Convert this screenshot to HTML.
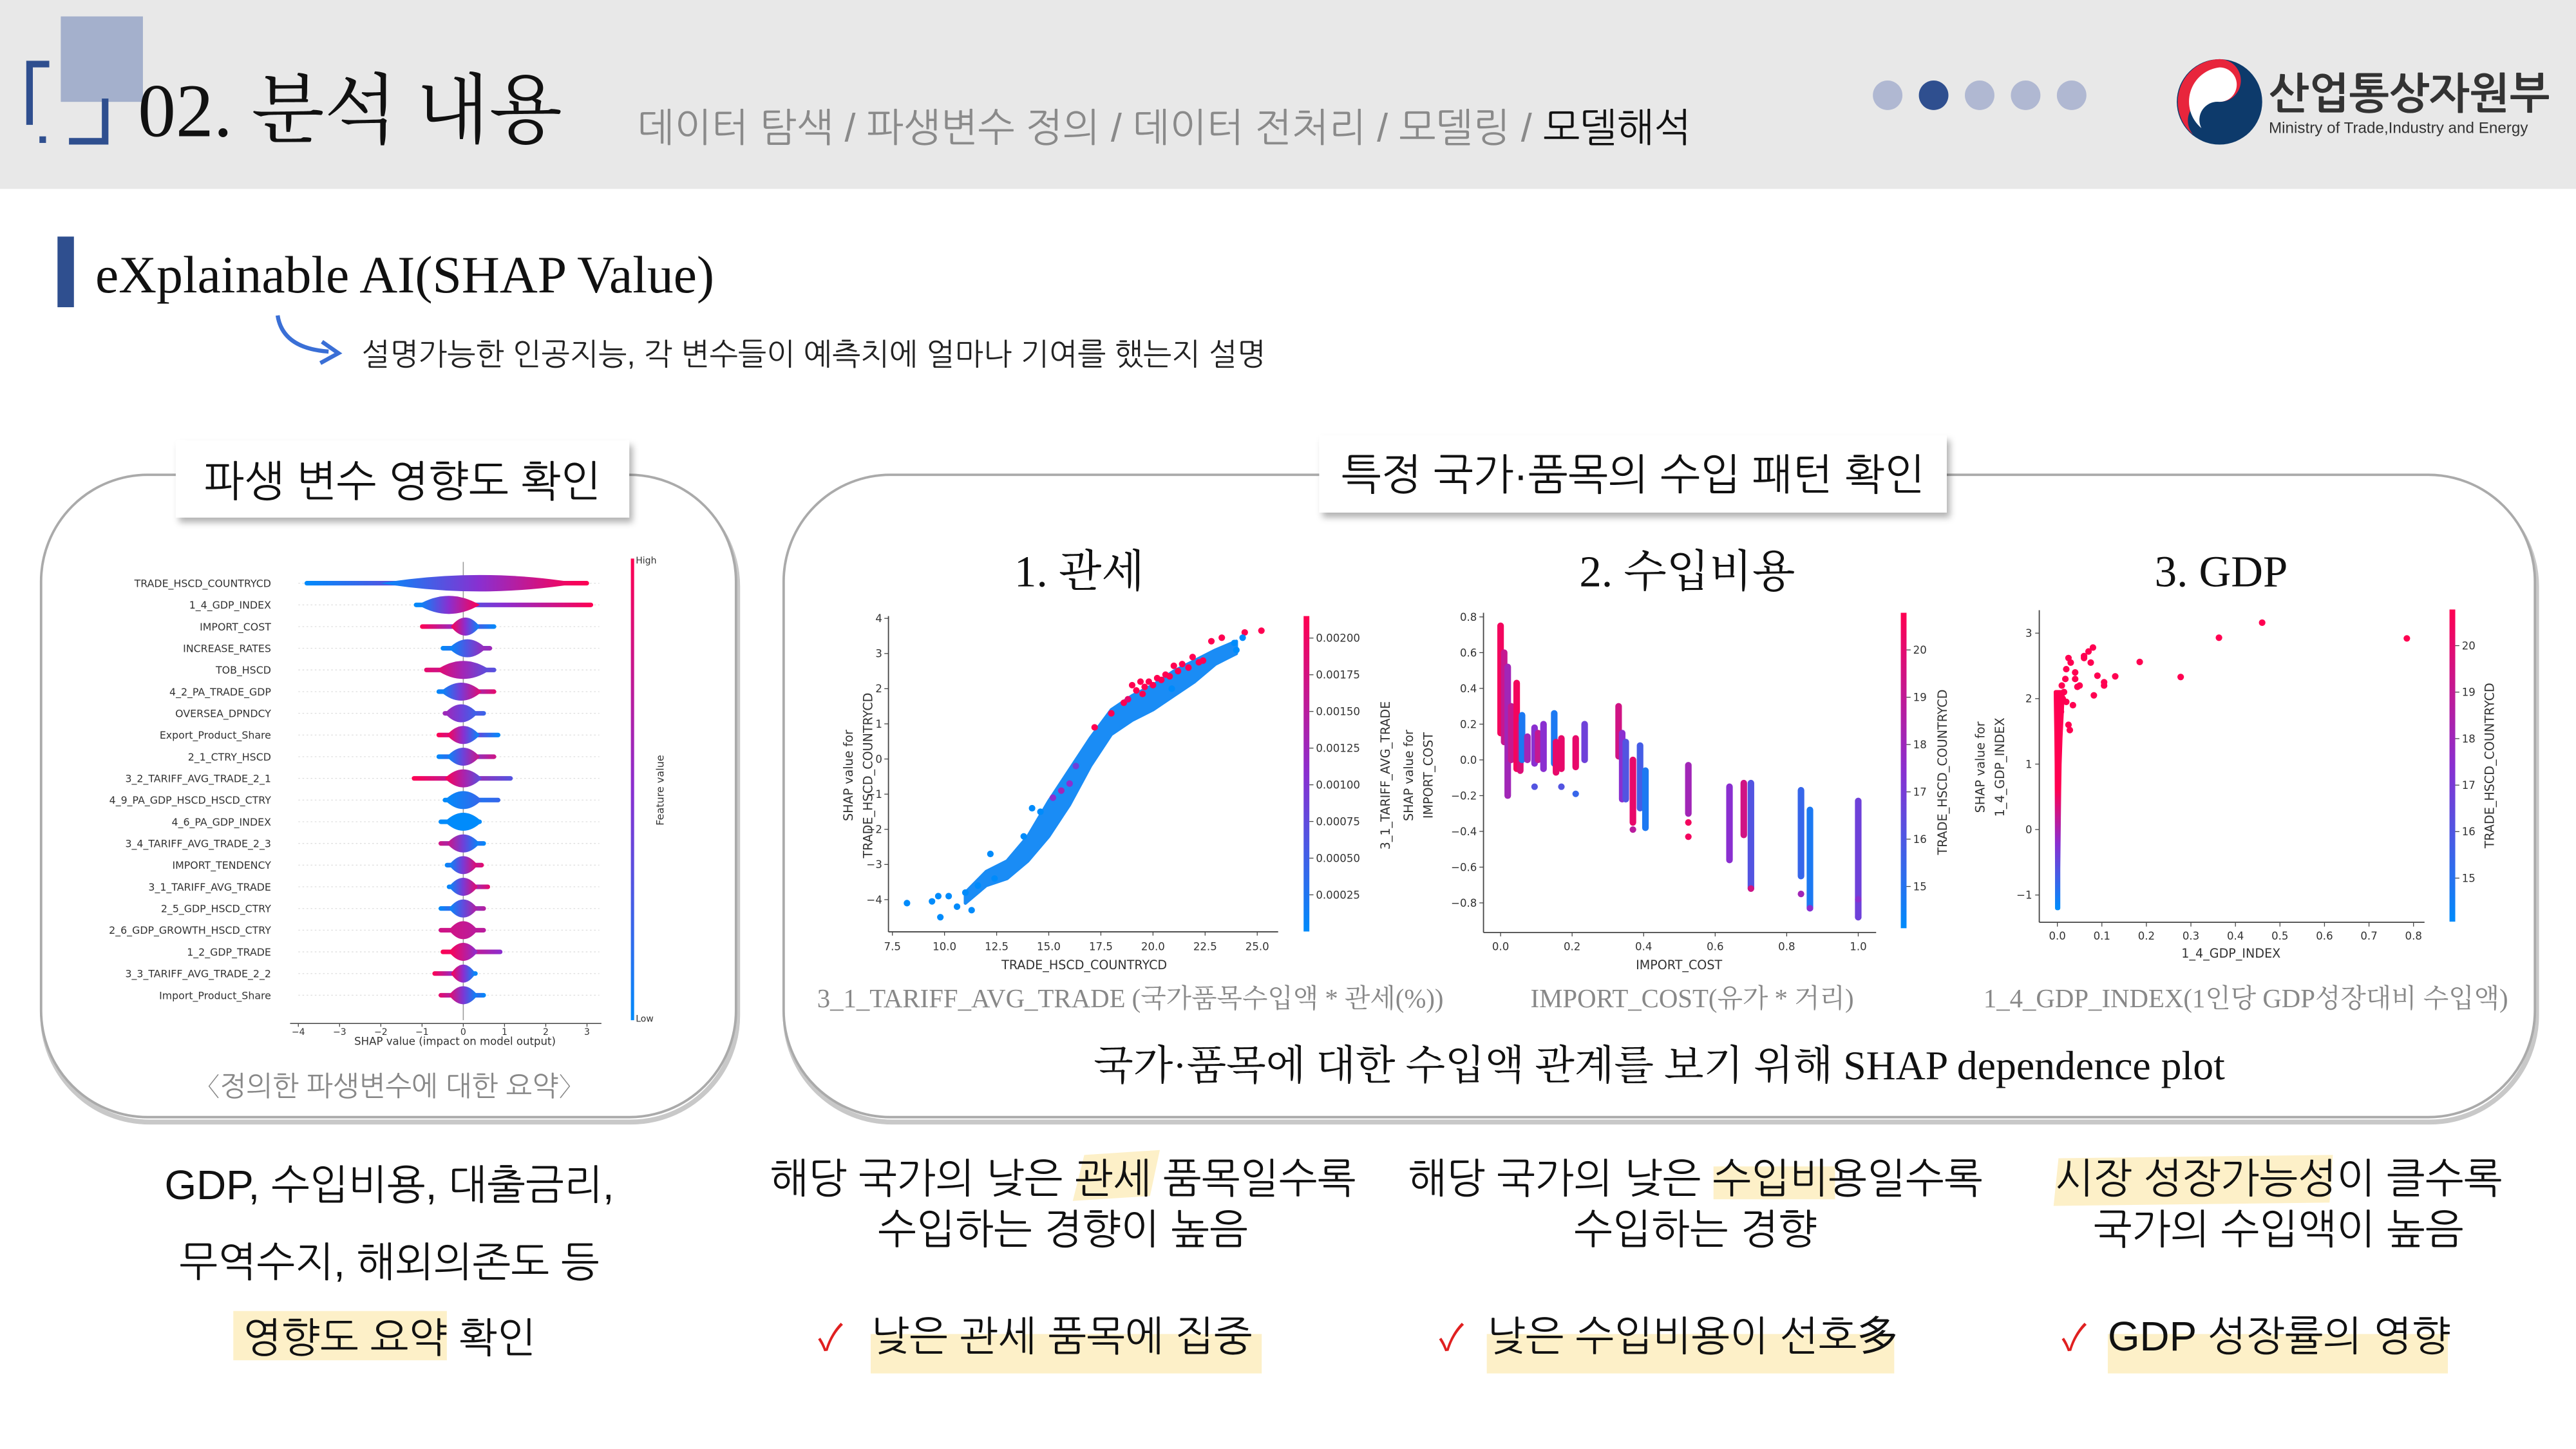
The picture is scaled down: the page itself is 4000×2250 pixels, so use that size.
<!DOCTYPE html>
<html><head><meta charset="utf-8">
<style>
html,body{margin:0;padding:0;background:#fff;}
body{width:4000px;height:2250px;overflow:hidden;}
svg{display:block;}
.serif{font-family:"Liberation Serif","Noto Serif CJK SC",serif;}
.sans{font-family:"Liberation Sans","NanumGothic","Noto Sans CJK KR",sans-serif;}
.dv{font-family:"DejaVu Sans","Liberation Sans",sans-serif;}
</style></head>
<body>
<svg id="page" width="4000" height="2250" viewBox="0 0 1568 882" xmlns="http://www.w3.org/2000/svg">
<defs>
  <filter id="sh" x="-10%" y="-20%" width="130%" height="160%"><feDropShadow dx="2" dy="3" stdDeviation="2" flood-color="#000" flood-opacity="0.3"/></filter>
  <linearGradient id="cbar" x1="0" y1="1" x2="0" y2="0">
    <stop offset="0" stop-color="#008bfb"/><stop offset="0.5" stop-color="#8a2fd0"/><stop offset="1" stop-color="#ff0051"/>
  </linearGradient>
  <linearGradient id="stemg" x1="0" y1="1" x2="0" y2="0">
    <stop offset="0" stop-color="#008bfb"/><stop offset="0.3" stop-color="#8a2fd0"/><stop offset="0.55" stop-color="#ff0051"/><stop offset="1" stop-color="#ff0051"/>
  </linearGradient>
</defs>

<!-- header -->
<rect x="0" y="0" width="1568" height="115" fill="#e8e8e8"/>
<g>
  <rect x="37" y="10" width="50" height="52" fill="#a4b0cc"/>
  <path d="M30 39 H18 V76" stroke="#2f4f8f" stroke-width="4" fill="none"/>
  <path d="M64 60 V86 H42" stroke="#2f4f8f" stroke-width="4" fill="none"/>
  <rect x="24" y="83" width="4" height="4" fill="#2f4f8f"/>
</g>
<text class="serif" x="84" y="83" font-size="46" fill="#111">02. 분석 내용</text>
<text class="sans" x="388" y="86" font-size="24" fill="#8a8a8a">데이터 탐색 / 파생변수 정의 / 데이터 전처리 / 모델링 / <tspan fill="#111">모델해석</tspan></text>
<g>
  <circle cx="1149" cy="58" r="9" fill="#b0b8d2"/>
  <circle cx="1177" cy="58" r="9" fill="#2f4f8f"/>
  <circle cx="1205" cy="58" r="9" fill="#b0b8d2"/>
  <circle cx="1233" cy="58" r="9" fill="#b0b8d2"/>
  <circle cx="1261" cy="58" r="9" fill="#b0b8d2"/>
</g>
<g>
  <circle cx="1351" cy="62" r="26" fill="#0d3a6b"/>
  <path d="M1351 36 A26 26 0 0 0 1335 82 A13 13 0 0 1 1351 62 A13 13 0 0 0 1351 36 Z" fill="#e8253c"/>
  <path d="M1351 41 A21 21 0 0 0 1340 78 A11 11 0 0 1 1351 62 A10 10 0 0 0 1351 41 Z" fill="#fff"/>
  <text class="sans" x="1381" y="66" font-size="26" font-weight="bold" fill="#333">산업통상자원부</text>
  <text class="sans" x="1381" y="81" font-size="9.5" fill="#333">Ministry of Trade,Industry and Energy</text>
</g>

<!-- subtitle -->
<rect x="35" y="144" width="10" height="43" fill="#2f4f8f"/>
<text class="serif" x="58" y="178" font-size="32" fill="#111">eXplainable AI(SHAP Value)</text>
<path d="M169 192 Q172 212 200 214" stroke="#3a6fd6" stroke-width="2.5" fill="none"/>
<path d="M196 208 L206 215 L195 221" stroke="#3a6fd6" stroke-width="2.5" fill="none"/>
<text class="sans" x="220" y="222" font-size="18.5" fill="#222">설명가능한 인공지능, 각 변수들이 예측치에 얼마나 기여를 했는지 설명</text>

<!-- panels -->
<rect x="26" y="292" width="423" height="391" rx="65" fill="none" stroke="#c8c8c8" stroke-width="3"/>
<rect x="25" y="289" width="423" height="391" rx="65" fill="#fff" stroke="#aaa" stroke-width="1.5"/>
<rect x="478" y="292" width="1066" height="391" rx="65" fill="none" stroke="#c8c8c8" stroke-width="3"/>
<rect x="477" y="289" width="1066" height="391" rx="65" fill="#fff" stroke="#aaa" stroke-width="1.5"/>

<rect x="107" y="268" width="276" height="47" fill="#fff" filter="url(#sh)"/>
<text class="sans" x="245" y="302" font-size="26" text-anchor="middle" fill="#111">파생 변수 영향도 확인</text>
<rect x="803" y="265" width="382" height="47" fill="#fff" filter="url(#sh)"/>
<text class="sans" x="994" y="298" font-size="26" text-anchor="middle" fill="#111">특정 국가·품목의 수입 패턴 확인</text>

<g id="summary"></g>
<g id="dep1"></g>
<g id="dep2"></g>
<g id="dep3"></g>

<text class="sans" x="237" y="667" font-size="17" text-anchor="middle" fill="#888">〈정의한 파생변수에 대한 요약〉</text>
<text class="serif" x="657" y="357" font-size="27" text-anchor="middle" fill="#111">1. 관세</text>
<text class="serif" x="1027" y="357" font-size="27" text-anchor="middle" fill="#111">2. 수입비용</text>
<text class="serif" x="1352" y="357" font-size="27" text-anchor="middle" fill="#111">3. GDP</text>
<text class="serif" x="688" y="613" font-size="16" text-anchor="middle" fill="#888">3_1_TARIFF_AVG_TRADE (국가품목수입액 * 관세(%))</text>
<text class="serif" x="1030" y="613" font-size="16" text-anchor="middle" fill="#888">IMPORT_COST(유가 * 거리)</text>
<text class="serif" x="1367" y="613" font-size="16" text-anchor="middle" fill="#888">1_4_GDP_INDEX(1인당 GDP성장대비 수입액)</text>
<text class="serif" x="1010" y="657" font-size="25" text-anchor="middle" fill="#111">국가·품목에 대한 수입액 관계를 보기 위해 SHAP dependence plot</text>

<!-- bottom conclusions -->
<g class="sans" font-size="25" fill="#111" text-anchor="middle">
  <rect x="142" y="798" width="130" height="30" fill="#fdf0c8"/>
  <text x="237" y="730">GDP, 수입비용, 대출금리,</text>
  <text x="237" y="777">무역수지, 해외의존도 등</text>
  <text x="237" y="823">영향도 요약 확인</text>

  <polygon points="660,703 706,700 700,728 653,731" fill="#fdf0c8"/>
  <text x="647" y="726">해당 국가의 낮은 관세 품목일수록</text>
  <text x="647" y="757">수입하는 경향이 높음</text>

  <rect x="1043" y="710" width="74" height="20" fill="#fdf0c8"/>
  <text x="1032" y="726">해당 국가의 낮은 수입비용일수록</text>
  <text x="1032" y="757">수입하는 경향</text>

  <polygon points="1253,705 1420,703 1418,732 1250,734" fill="#fdf0c8"/>
  <text x="1387" y="726">시장 성장가능성이 클수록</text>
  <text x="1387" y="757">국가의 수입액이 높음</text>
</g>
<g class="sans" font-size="25" fill="#111">
  <rect x="530" y="812" width="238" height="24" fill="#fdf0c8"/>
  <text x="498" y="822" fill="#e02020" font-size="22">✓</text>
  <text x="530" y="822">낮은 관세 품목에 집중</text>
  <rect x="905" y="812" width="248" height="24" fill="#fdf0c8"/>
  <text x="876" y="822" fill="#e02020" font-size="22">✓</text>
  <text x="905" y="822">낮은 수입비용이 선호多</text>
  <rect x="1283" y="812" width="207" height="24" fill="#fdf0c8"/>
  <text x="1255" y="822" fill="#e02020" font-size="22">✓</text>
  <text x="1283" y="822">GDP 성장률의 영향</text>
</g>
</svg>

<script>
// ===== Summary (beeswarm) data =====
const featureNames = ["TRADE_HSCD_COUNTRYCD","1_4_GDP_INDEX","IMPORT_COST","INCREASE_RATES","TOB_HSCD","4_2_PA_TRADE_GDP","OVERSEA_DPNDCY","Export_Product_Share","2_1_CTRY_HSCD","3_2_TARIFF_AVG_TRADE_2_1","4_9_PA_GDP_HSCD_HSCD_CTRY","4_6_PA_GDP_INDEX","3_4_TARIFF_AVG_TRADE_2_3","IMPORT_TENDENCY","3_1_TARIFF_AVG_TRADE","2_5_GDP_HSCD_CTRY","2_6_GDP_GROWTH_HSCD_CTRY","1_2_GDP_TRADE","3_3_TARIFF_AVG_TRADE_2_2","Import_Product_Share"];
const shapMin = [-3.85,-1.2,-1.05,-0.55,-0.95,-0.65,-0.5,-0.65,-0.65,-1.25,-0.5,-0.6,-0.6,-0.45,-0.4,-0.6,-0.6,-0.55,-0.75,-0.6];
const shapMax = [3.05,3.15,0.8,0.7,0.8,0.8,0.55,0.9,0.8,1.2,0.9,0.45,0.55,0.5,0.65,0.55,0.55,0.95,0.35,0.55];
const shapCenter = [0.4,-0.35,0.05,0.1,0.0,-0.05,-0.05,0.0,0.0,0.0,0.0,0.0,0.0,0.0,0.0,0.0,0.0,0.0,0.0,0.0];
const shapSpread = [2.4,0.75,0.35,0.45,0.65,0.5,0.4,0.4,0.4,0.45,0.45,0.45,0.4,0.35,0.35,0.35,0.35,0.35,0.3,0.35];
const colorLeft = [0,0,1,0,0.9,0,0.6,1,0,1,0,0,0.8,0,0,0,0.8,1,1,0.9];
const colorRight = [1,1,0,0.6,0.3,0.9,0.2,0,0.8,0.3,0.2,0,0,0.9,0.9,0.7,0.7,0.5,0,0];
const summaryTicks = [-4,-3,-2,-1,0,1,2,3];

// ===== Dependence plot 1 data =====
const p1BandX  = [11.0,12.0,13.0,14.0,15.0,16.0,17.0,18.0,19.0,20.0,21.0,22.0,23.0,24.0];
const p1BandLo = [-4.1,-3.6,-3.4,-2.9,-2.2,-1.3,-0.2,0.7,1.1,1.4,1.8,2.2,2.7,3.0];
const p1BandHi = [-3.8,-3.2,-2.9,-2.2,-1.2,-0.3,0.6,1.4,1.8,2.1,2.5,2.8,3.1,3.35];
const p1PtX = [8.2,9.4,9.7,9.8,10.2,10.6,11.0,11.3,11.6,12.4,12.2,13.8,14.6,14.2,15.6,15.2,16.3,16.0,17.2,18.0,18.6,19.0,19.4,19.8,20.2,20.6,21.0,21.4,21.9,22.4,22.8,23.3,24.4,25.2,23.9,24.3,24.0,19.2,19.6,20.0,20.4,19.5,20.8,21.2,21.7,22.2,18.8,20.9];
const p1PtY = [-4.1,-4.05,-3.9,-4.5,-3.9,-4.2,-3.8,-4.3,-3.6,-3.4,-2.7,-2.2,-1.5,-1.4,-0.9,-1.1,-0.2,-0.7,0.9,1.3,1.6,2.1,2.2,2.2,2.3,2.4,2.65,2.7,2.9,2.8,3.35,3.45,3.6,3.65,3.3,3.45,3.1,1.95,2.05,2.1,2.25,1.85,2.35,2.5,2.6,2.75,1.7,2.0];
const p1PtC = [0,0,0,0,0,0,0,0,0,0,0,0,0,0,0.6,0.5,0.4,0.5,1,1,1,1,1,1,1,1,1,1,1,1,1,1,1,1,0,0,0,1,1,1,1,1,1,1,1,1,0.9,0];
const p1XTicks = [7.5,10.0,12.5,15.0,17.5,20.0,22.5,25.0];
const p1YTicks = [4,3,2,1,0,-1,-2,-3,-4];
const p1CTicks = [0.00200,0.00175,0.00150,0.00125,0.00100,0.00075,0.00050,0.00025];

// ===== Dependence plot 2 data =====
const p2StripeX  = [0.00,0.01,0.02,0.03,0.045,0.055,0.06,0.075,0.095,0.105,0.12,0.15,0.155,0.17,0.21,0.235,0.33,0.34,0.35,0.37,0.39,0.405,0.525,0.64,0.68,0.70,0.84,0.865,1.00];
const p2StripeLo = [0.15,0.1,-0.2,0.0,-0.05,-0.06,0.0,0.0,-0.02,0.0,-0.05,-0.02,-0.07,-0.05,-0.04,0.0,0.02,-0.22,-0.22,-0.35,-0.27,-0.38,-0.3,-0.56,-0.42,-0.72,-0.65,-0.83,-0.88];
const p2StripeHi = [0.75,0.6,0.52,0.3,0.43,0.2,0.25,0.13,0.18,0.15,0.2,0.26,0.1,0.12,0.12,0.2,0.3,0.15,0.1,0.0,0.08,-0.06,-0.03,-0.15,-0.13,-0.13,-0.17,-0.28,-0.23];
const p2StripeC  = [0.95,0.75,0.6,0.75,0.95,0.85,0.1,0.6,0.5,0.75,0.5,0.1,0.9,0.9,0.9,0.4,0.8,0.5,0.3,0.9,0.25,0.1,0.6,0.5,0.8,0.3,0.2,0.1,0.4];
const p2PtX = [0.095,0.17,0.21,0.525,0.525,0.84,0.865,1.0,1.0,0.37,0.70];
const p2PtY = [-0.15,-0.15,-0.19,-0.43,-0.35,-0.75,-0.83,-0.88,-0.78,-0.39,-0.72];
const p2PtC = [0.3,0.3,0.2,0.95,0.95,0.6,0.5,0.4,0.5,0.7,0.8];
const p2XTicks = [0.0,0.2,0.4,0.6,0.8,1.0];
const p2YTicks = [0.8,0.6,0.4,0.2,0.0,-0.2,-0.4,-0.6,-0.8];
const p2CTicks = [20,19,18,17,16,15];

// ===== Dependence plot 3 data =====
const p3StemY = [-1.2,-0.6,0.0,0.6,1.0,1.4,1.8,2.1];
const p3StemW = [0.002,0.002,0.003,0.004,0.005,0.007,0.01,0.012];
const p3PtX = [0.05,0.06,0.075,0.08,0.082,0.09,0.105,0.13,0.185,0.277,0.363,0.46,0.785,0.02,0.025,0.03,0.04,0.035,0.025,0.028,0.015,0.02,0.06,0.045,0.105,0.07,0.04,0.01,0.012,0.018,0.008];
const p3PtY = [2.2,2.62,2.55,2.78,2.05,2.35,2.2,2.34,2.56,2.33,2.93,3.16,2.92,2.45,2.62,2.55,2.4,1.9,1.6,1.52,2.1,1.95,2.65,2.18,2.25,2.72,2.3,2.2,2.0,2.3,1.8];
const p3XTicks = [0.0,0.1,0.2,0.3,0.4,0.5,0.6,0.7,0.8];
const p3YTicks = [3,2,1,0,-1];
const p3CTicks = [20,19,18,17,16,15];

const NS = "http://www.w3.org/2000/svg";
function mk(tag, attrs, parent){ const e=document.createElementNS(NS,tag); for(const k in attrs) e.setAttribute(k,attrs[k]); parent.appendChild(e); return e; }
function col(t){
  const a=[0,139,251], m=[138,47,208], b=[255,0,81];
  let c;
  if(t<0.5){ const u=t/0.5; c=a.map((v,i)=>Math.round(v+(m[i]-v)*u)); }
  else { const u=(t-0.5)/0.5; c=m.map((v,i)=>Math.round(v+(b[i]-v)*u)); }
  return "rgb("+c.join(",")+")";
}
function txt(parent, x, y, s, size, anchor, extra){
  const t=mk("text",Object.assign({x:x,y:y,"font-size":size,"text-anchor":anchor||"start",fill:"#333","class":"dv"},extra||{}),parent);
  t.textContent=s; return t;
}

// ===== Summary plot =====
(function(){
  const g=document.getElementById("summary");
  const defs=document.querySelector("defs");
  const sx=v=>282+v*25.1;
  const rowY=i=>355+i*13.2;
  mk("line",{x1:sx(0),y1:342,x2:sx(0),y2:621,stroke:"#999","stroke-width":0.6},g);
  featureNames.forEach((name,i)=>{
    const y=rowY(i);
    const lab=txt(g,165,y+2.3,name,6.2,"end");
    
    
    const gid="rg"+i;
    const lg=mk("linearGradient",{id:gid,x1:"0",y1:"0",x2:"1",y2:"0"},defs);
    mk("stop",{offset:"0","stop-color":col(colorLeft[i])},lg);
    mk("stop",{offset:"0.5","stop-color":col((colorLeft[i]+colorRight[i])/2)},lg);
    mk("stop",{offset:"1","stop-color":col(colorRight[i])},lg);
    mk("line",{x1:sx(-4),y1:y,x2:sx(3.3),y2:y,stroke:"#ddd","stroke-width":0.5,"stroke-dasharray":"1,1.5"},g);
    const x0=sx(shapMin[i]), x1=sx(shapMax[i]);
    const line=mk("rect",{x:x0,y:y-1.4,width:x1-x0,height:2.8,rx:1.4,fill:"url(#"+gid+")"},g);
    
    
    const c=sx(shapCenter[i]), w=shapSpread[i]*25.1, h=i===0?5:5.5;
    const body=mk("path",{d:"M"+(c-w)+" "+y+" Q"+c+" "+(y-2*h)+" "+(c+w)+" "+y+" Q"+c+" "+(y+2*h)+" "+(c-w)+" "+y+" Z",fill:"url(#"+gid+")"},g);
    
    
  });
  mk("line",{x1:sx(-4.2),y1:623,x2:sx(3.35),y2:623,stroke:"#444","stroke-width":0.6},g);
  summaryTicks.forEach(t=>{
    mk("line",{x1:sx(t),y1:623,x2:sx(t),y2:625,stroke:"#444","stroke-width":0.5},g);
    txt(g,sx(t),630,t<0?"−"+Math.abs(t):String(t),5.5,"middle");
  });
  txt(g,sx(-0.2),636,"SHAP value (impact on model output)",6.5,"middle");
  mk("rect",{x:384,y:340,width:2,height:281,fill:"url(#cbar)"},g);
  txt(g,387,343,"High",5.5);
  txt(g,387,622,"Low",5.5);
  txt(g,404,481,"Feature value",6.3,"middle",{transform:"rotate(-90 404 481)"});
})();

function axes(g, L, B, R, T){
  mk("line",{x1:L,y1:T,x2:L,y2:B,stroke:"#444","stroke-width":0.7},g);
  mk("line",{x1:L,y1:B,x2:R,y2:B,stroke:"#444","stroke-width":0.7},g);
}
function cbar(g,x,top,bot){ mk("rect",{x:x,y:top,width:3.5,height:bot-top,fill:"url(#cbar)"},g); }

// ===== Plot 1 =====
(function(){
  const g=document.getElementById("dep1");
  const sx=v=>543.2+(v-7.5)*12.69, sy=v=>376.4+(4-v)*21.4;
  axes(g,540.8,567.2,778,375);
  let top=p1BandX.map((x,i)=>sx(x)+","+sy(p1BandHi[i]));
  let bot=p1BandX.map((x,i)=>sx(x)+","+sy(p1BandLo[i])).reverse();
  const band=mk("polygon",{points:top.concat(bot).join(" "),fill:"#1a8cf5","stroke":"#1a8cf5","stroke-width":2,"stroke-linejoin":"round"},g);
  
  
  p1PtX.forEach((x,i)=>{
    const p=mk("circle",{cx:sx(x),cy:sy(p1PtY[i]),r:2,fill:col(p1PtC[i])},g);
    
    
  });
  p1XTicks.forEach(t=>{ mk("line",{x1:sx(t),y1:567,x2:sx(t),y2:569.5,stroke:"#444","stroke-width":0.5},g); txt(g,sx(t),578.5,t.toFixed(1),6.5,"middle"); });
  p1YTicks.forEach(t=>{ mk("line",{x1:538.3,y1:sy(t),x2:540.8,y2:sy(t),stroke:"#444","stroke-width":0.5},g); txt(g,537,sy(t)+2.3,t<0?"−"+Math.abs(t):String(t),6.5,"end"); });
  txt(g,660,590,"TRADE_HSCD_COUNTRYCD",7.5,"middle");
  txt(g,519,472,"SHAP value for",7.5,"middle",{transform:"rotate(-90 519 472)"});
  txt(g,531,472,"TRADE_HSCD_COUNTRYCD",7.5,"middle",{transform:"rotate(-90 531 472)"});
  cbar(g,793.5,375,567);
  const cy=v=>567-(v/0.00215)*192;
  p1CTicks.forEach(t=>{ mk("line",{x1:797,y1:cy(t),x2:799.5,y2:cy(t),stroke:"#444","stroke-width":0.5},g); txt(g,801,cy(t)+2.3,t.toFixed(5),6.5); });
  txt(g,846,472,"3_1_TARIFF_AVG_TRADE",7.5,"middle",{transform:"rotate(-90 846 472)"});
})();

// ===== Plot 2 =====
(function(){
  const g=document.getElementById("dep2");
  const sx=v=>913.4+v*217.7, sy=v=>375.5+(0.8-v)*108.8;
  axes(g,903,567.6,1142,373);
  p2StripeX.forEach((x,i)=>{
    const r=mk("rect",{x:sx(x)-2,y:sy(p2StripeHi[i])-2,width:4,height:sy(p2StripeLo[i])-sy(p2StripeHi[i])+4,rx:2,fill:col(p2StripeC[i])},g);
    
    
  });
  p2PtX.forEach((x,i)=>{
    const p=mk("circle",{cx:sx(x),cy:sy(p2PtY[i]),r:2,fill:col(p2PtC[i])},g);
    
    
  });
  p2XTicks.forEach(t=>{ mk("line",{x1:sx(t),y1:567.6,x2:sx(t),y2:570,stroke:"#444","stroke-width":0.5},g); txt(g,sx(t),578.5,t.toFixed(1),6.5,"middle"); });
  p2YTicks.forEach(t=>{ mk("line",{x1:900.5,y1:sy(t),x2:903,y2:sy(t),stroke:"#444","stroke-width":0.5},g); txt(g,899,sy(t)+2.3,(t<0?"−":"")+Math.abs(t).toFixed(1),6.5,"end"); });
  txt(g,1022,590,"IMPORT_COST",7.5,"middle");
  txt(g,860,472,"SHAP value for",7.5,"middle",{transform:"rotate(-90 860 472)"});
  txt(g,872,472,"IMPORT_COST",7.5,"middle",{transform:"rotate(-90 872 472)"});
  cbar(g,1157,373,565);
  const cy=v=>395.6+(20-v)*28.8;
  p2CTicks.forEach(t=>{ mk("line",{x1:1160.5,y1:cy(t),x2:1163,y2:cy(t),stroke:"#444","stroke-width":0.5},g); txt(g,1164.5,cy(t)+2.3,String(t),6.5); });
  txt(g,1185,470,"TRADE_HSCD_COUNTRYCD",7.5,"middle",{transform:"rotate(-90 1185 470)"});
})();

// ===== Plot 3 =====
(function(){
  const g=document.getElementById("dep3");
  const sx=v=>1252.3+v*271, sy=v=>385.4+(3-v)*39.85;
  axes(g,1241.3,561.4,1475.8,371.4);
  const left=p3StemY.map((y,i)=>sx(-p3StemW[i]*0.3)+","+sy(y));
  const right=p3StemY.map((y,i)=>sx(p3StemW[i])+","+sy(y)).reverse();
  const stem=mk("polygon",{points:left.concat(right).join(" "),fill:"url(#stemg)",stroke:"url(#stemg)","stroke-width":2.5,"stroke-linejoin":"round"},g);
  
  
  p3PtX.forEach((x,i)=>{
    const p=mk("circle",{cx:sx(x),cy:sy(p3PtY[i]),r:2,fill:"#ff0051"},g);
    
    
  });
  p3XTicks.forEach(t=>{ mk("line",{x1:sx(t),y1:561.4,x2:sx(t),y2:564,stroke:"#444","stroke-width":0.5},g); txt(g,sx(t),572,t.toFixed(1),6.5,"middle"); });
  p3YTicks.forEach(t=>{ mk("line",{x1:1238.8,y1:sy(t),x2:1241.3,y2:sy(t),stroke:"#444","stroke-width":0.5},g); txt(g,1237,sy(t)+2.3,t<0?"−"+Math.abs(t):String(t),6.5,"end"); });
  txt(g,1358,583,"1_4_GDP_INDEX",7.5,"middle");
  txt(g,1208,467,"SHAP value for",7.5,"middle",{transform:"rotate(-90 1208 467)"});
  txt(g,1220,467,"1_4_GDP_INDEX",7.5,"middle",{transform:"rotate(-90 1220 467)"});
  cbar(g,1491,371,561);
  const cy=v=>393+(20-v)*28.3;
  p3CTicks.forEach(t=>{ mk("line",{x1:1494.5,y1:cy(t),x2:1497,y2:cy(t),stroke:"#444","stroke-width":0.5},g); txt(g,1498.5,cy(t)+2.3,String(t),6.5); });
  txt(g,1518,466,"TRADE_HSCD_COUNTRYCD",7.5,"middle",{transform:"rotate(-90 1518 466)"});
})();
</script>
</body></html>
